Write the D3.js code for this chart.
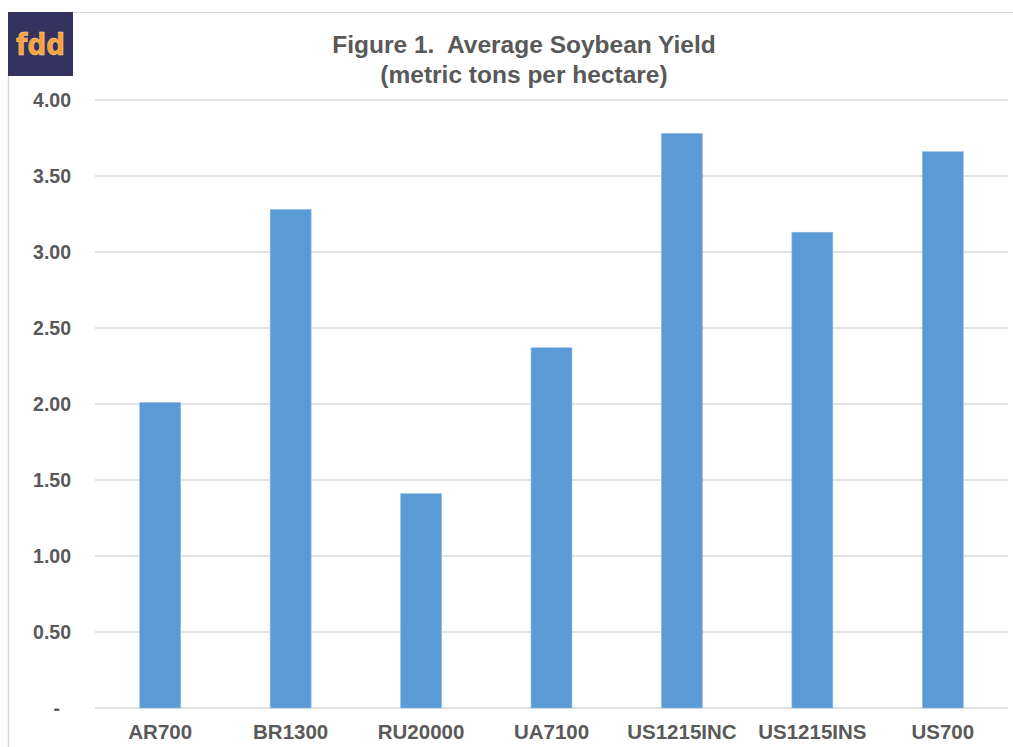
<!DOCTYPE html>
<html>
<head>
<meta charset="utf-8">
<script src="https://cdn.jsdelivr.net/npm/d3@7"></script>
<style>
  html, body { margin: 0; padding: 0; background: #ffffff; }
  svg { display: block; }
</style>
</head>
<body>
<svg id="chart" width="1013" height="747"></svg>
<script>
// Average soybean yield by farm (metric tons per hectare)
const categories = ["AR700", "BR1300", "RU20000", "UA7100", "US1215INC", "US1215INS", "US700"];
const yields = [2.01, 3.28, 1.41, 2.37, 3.78, 3.13, 3.66];
const yTicks = [0, 0.5, 1, 1.5, 2, 2.5, 3, 3.5, 4];
const titleLines = ["Figure 1.  Average Soybean Yield", "(metric tons per hectare)"];

const W = 1013, H = 747;
const plot = { left: 95, right: 1008, top: 100, bottom: 708 };
const textColor = "#595959";
const gridColor = "#d9d9d9";
const barColor = "#5b9bd5";

const svg = d3.select("#chart");

// Outer frame: top and left edges
svg.append("line")
  .attr("x1", 73).attr("x2", W).attr("y1", 12.5).attr("y2", 12.5)
  .attr("stroke", gridColor).attr("stroke-width", 1);
svg.append("line")
  .attr("x1", 8.5).attr("x2", 8.5).attr("y1", 76).attr("y2", H)
  .attr("stroke", gridColor).attr("stroke-width", 1.5);

// Logo badge
const logo = svg.append("g");
logo.append("rect")
  .attr("x", 8).attr("y", 12).attr("width", 65).attr("height", 64)
  .attr("fill", "#35325f");
logo.append("text")
  .attr("x", 16).attr("y", 55)
  .attr("font-family", "'DejaVu Sans', Verdana, sans-serif")
  .attr("font-weight", "bold")
  .attr("font-size", 30)
  .attr("textLength", 49)
  .attr("lengthAdjust", "spacingAndGlyphs")
  .attr("fill", "#f7a33a")
  .attr("stroke", "#fbd9a8").attr("stroke-width", 0.5)
  .text("fdd");

// Scales
const x = d3.scaleBand()
  .domain(categories)
  .range([plot.left, plot.right])
  .paddingInner(0.686)
  .paddingOuter(0.343);

const y = d3.scaleLinear()
  .domain([0, 4])
  .range([plot.bottom, plot.top]);

// Gridlines
svg.append("g")
  .selectAll("line")
  .data(yTicks)
  .join("line")
  .attr("x1", plot.left).attr("x2", plot.right)
  .attr("y1", d => y(d)).attr("y2", d => y(d))
  .attr("stroke", gridColor).attr("stroke-width", 1.5);

// Bars
svg.append("g")
  .selectAll("rect")
  .data(categories.map((c, i) => ({ c, v: yields[i] })))
  .join("rect")
  .attr("x", d => x(d.c))
  .attr("width", x.bandwidth())
  .attr("y", d => y(d.v))
  .attr("height", d => y(0) - y(d.v))
  .attr("fill", barColor)
  .attr("stroke", "#8fbce6").attr("stroke-width", 0.6);

// Y axis (accounting style: zero shown as a dash)
const yAxis = d3.axisLeft(y)
  .tickValues(yTicks)
  .tickSize(0)
  .tickPadding(0)
  .tickFormat(d => d === 0 ? "-" : d3.format(".2f")(d));

const gy = svg.append("g")
  .attr("transform", `translate(71,0)`)
  .call(yAxis);
gy.select(".domain").remove();
gy.selectAll("text")
  .attr("font-family", "'Liberation Sans', Arial, sans-serif")
  .attr("font-weight", "bold")
  .attr("font-size", 19.5)
  .attr("fill", textColor)
  .attr("dx", d => d === 0 ? -11 : 0);

// X axis
const xAxis = d3.axisBottom(x).tickSize(0).tickPadding(0);
const gx = svg.append("g")
  .attr("transform", `translate(0,${plot.bottom})`)
  .call(xAxis);
gx.select(".domain").remove();
gx.selectAll("text")
  .attr("font-family", "'Liberation Sans', Arial, sans-serif")
  .attr("font-weight", "bold")
  .attr("font-size", 20.5)
  .attr("fill", textColor)
  .attr("dy", null)
  .attr("y", 31);

// Title
svg.append("g")
  .selectAll("text")
  .data(titleLines)
  .join("text")
  .attr("x", 524)
  .attr("y", (d, i) => 53 + i * 30)
  .attr("text-anchor", "middle")
  .attr("font-family", "'Liberation Sans', Arial, sans-serif")
  .attr("font-weight", "bold")
  .attr("font-size", 24.5)
  .attr("fill", textColor)
  .attr("xml:space", "preserve")
  .style("white-space", "pre")
  .text(d => d);
</script>
</body>
</html>
